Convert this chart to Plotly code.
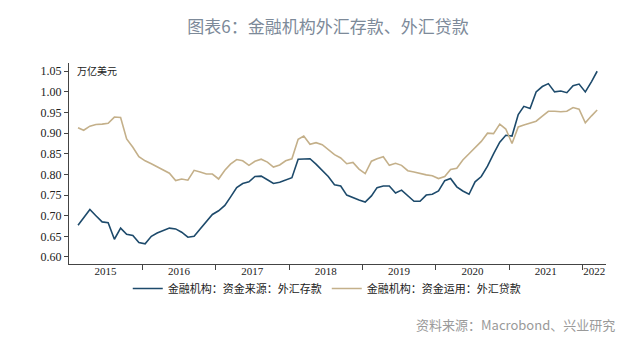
import plotly.graph_objects as go
import pandas as pd

# Monthly data, Jan 2015 - Feb 2022 (万亿美元)
dates = pd.date_range("2015-01-15", periods=86, freq="MS") + pd.Timedelta(days=14)

deposits = [
    # 2015
    0.677, 0.695, 0.715, 0.700, 0.685, 0.683, 0.643, 0.670, 0.655, 0.652, 0.635, 0.632,
    # 2016
    0.650, 0.658, 0.665, 0.670, 0.668, 0.660, 0.648, 0.650, 0.668, 0.685, 0.703, 0.712,
    # 2017
    0.725, 0.745, 0.768, 0.778, 0.782, 0.795, 0.796, 0.787, 0.778, 0.781, 0.786, 0.792,
    # 2018
    0.837, 0.838, 0.838, 0.825, 0.810, 0.795, 0.775, 0.772, 0.750, 0.743, 0.738, 0.733,
    # 2019
    0.748, 0.768, 0.772, 0.772, 0.755, 0.762, 0.748, 0.735, 0.735, 0.750, 0.752, 0.760,
    # 2020
    0.785, 0.790, 0.770, 0.760, 0.752, 0.782, 0.795, 0.820, 0.850, 0.878, 0.895, 0.893,
    # 2021
    0.945, 0.965, 0.960, 1.000, 1.013, 1.020, 1.000, 1.002, 0.998, 1.015, 1.019, 1.000,
    # 2022
    1.025, 1.050,
]

loans = [
    # 2015
    0.913, 0.907, 0.917, 0.921, 0.922, 0.924, 0.939, 0.938, 0.886, 0.866, 0.843, 0.833,
    # 2016
    0.826, 0.819, 0.812, 0.803, 0.785, 0.789, 0.786, 0.810, 0.806, 0.801, 0.801, 0.789,
    # 2017
    0.810, 0.825, 0.836, 0.833, 0.822, 0.832, 0.837, 0.830, 0.818, 0.823, 0.833, 0.838,
    # 2018
    0.885, 0.893, 0.873, 0.877, 0.872, 0.860, 0.848, 0.840, 0.826, 0.829, 0.813, 0.802,
    # 2019
    0.832, 0.838, 0.843, 0.822, 0.827, 0.822, 0.809, 0.806, 0.802, 0.799, 0.797, 0.790,
    # 2020
    0.795, 0.812, 0.815, 0.835, 0.850, 0.865, 0.880, 0.900, 0.899, 0.922, 0.910, 0.875,
    # 2021
    0.915, 0.920, 0.924, 0.929, 0.941, 0.953, 0.953, 0.952, 0.953, 0.962, 0.958, 0.925,
    # 2022
    0.942, 0.956,
]

year_labels = ["2015", "2016", "2017", "2018", "2019", "2020", "2021", "2022"]
label_dates = ["2015-07-02", "2016-07-02", "2017-07-02", "2018-07-02",
               "2019-07-02", "2020-07-02", "2021-07-02", "2022-02-28"]
boundary_dates = ["2016-01-01", "2017-01-01", "2018-01-01", "2019-01-01",
                  "2020-01-01", "2021-01-01", "2022-01-01"]
y_ticks = [0.60, 0.65, 0.70, 0.75, 0.80, 0.85, 0.90, 0.95, 1.00, 1.05]

name_dep = "金融机构：资金来源：外汇存款"
name_loan = "金融机构：资金运用：外汇贷款"

fig = go.Figure()
fig.add_trace(go.Scatter(x=dates, y=deposits, mode="lines", name=name_dep,
                         line=dict(color="#1d4a6b", width=1.6)))
fig.add_trace(go.Scatter(x=dates, y=loans, mode="lines", name=name_loan,
                         line=dict(color="#c4b08a", width=1.6)))

fig.update_layout(
    width=640, height=358,
    margin=dict(l=61, r=42, t=55, b=102),
    paper_bgcolor="white", plot_bgcolor="white",
    title=dict(text="图表6：金融机构外汇存款、外汇贷款", x=0.5, xanchor="center",
               y=0.948, yanchor="middle",
               font=dict(family="Noto Sans CJK SC", size=17, color="#7d8a99")),
    showlegend=True,
    legend=dict(orientation="h", x=0.48, xanchor="center", y=-0.05, yanchor="top",
                font=dict(family="Noto Sans CJK SC", size=11, color="#222222"),
                itemwidth=30, tracegroupgap=0, bgcolor="rgba(0,0,0,0)"),
    xaxis=dict(
        type="date",
        range=["2015-01-01", "2022-04-28"],
        tickmode="array", tickvals=label_dates, ticktext=year_labels,
        ticks="", ticklen=0, ticklabelstandoff=-3,
        tickfont=dict(family="Liberation Serif", size=11, color="#222222"),
        showgrid=False, zeroline=False,
        showline=True, linecolor="#444444", linewidth=1,
        minor=dict(tickmode="array", tickvals=boundary_dates, ticks="outside",
                   ticklen=5, tickwidth=1, tickcolor="#444444", showgrid=False),
    ),
    yaxis=dict(
        range=[0.583, 1.07],
        tickmode="array", tickvals=y_ticks, tickformat=".2f",
        ticks="outside", ticklen=4, tickwidth=1, tickcolor="#444444",
        tickfont=dict(family="Liberation Serif", size=12, color="#222222"),
        showgrid=False, zeroline=False,
        showline=True, linecolor="#444444", linewidth=1,
    ),
)

fig.add_annotation(text="万亿美元", xref="paper", yref="paper", x=0.012, y=0.962,
                   xanchor="left", yanchor="middle", showarrow=False,
                   font=dict(family="Noto Sans CJK SC", size=10, color="#222222"))
fig.add_annotation(text="资料来源：Macrobond、兴业研究", xref="paper", yref="paper",
                   x=1.02, y=-0.30, xanchor="right", yanchor="middle", showarrow=False,
                   font=dict(family="Noto Sans CJK SC", size=13, color="#9a9a9a"))

fig.write_html("out.html")
